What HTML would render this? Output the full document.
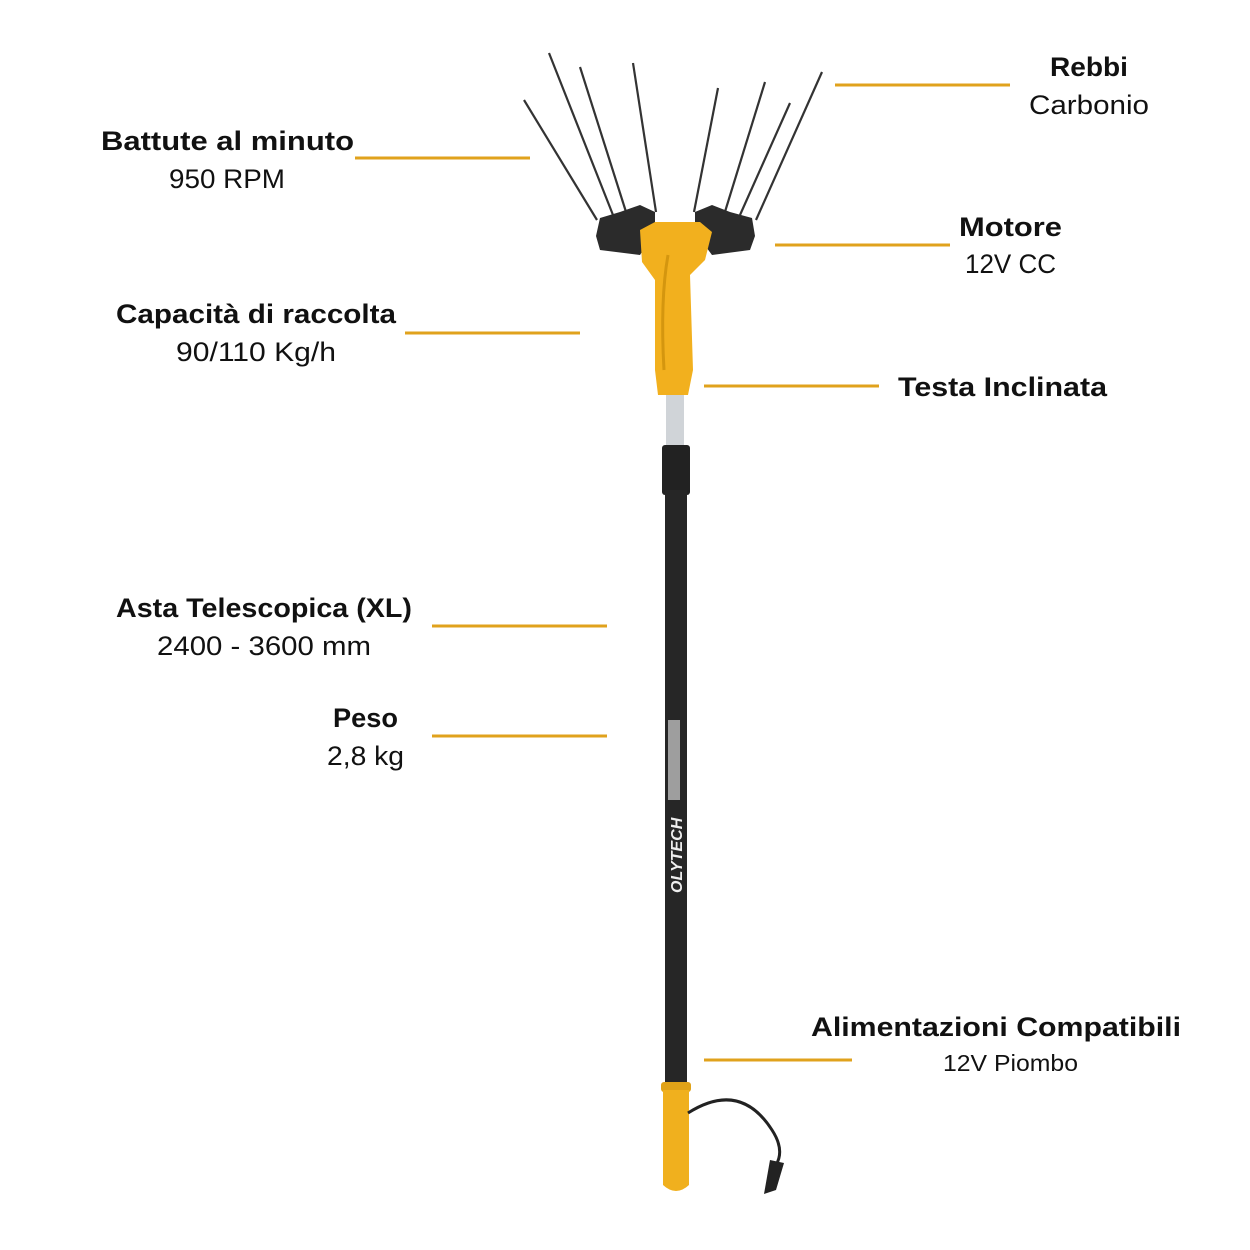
<!DOCTYPE html>
<html><head><meta charset="utf-8"><style>
html,body{margin:0;padding:0;background:#fff}
svg{display:block}
text{font-family:"Liberation Sans",sans-serif;fill:#111}
.b{font-weight:bold;font-size:27px}
.r{font-size:27px}
</style></head><body>
<svg width="1250" height="1250" viewBox="0 0 1250 1250" xmlns="http://www.w3.org/2000/svg">
<g stroke="#E0A21C" stroke-width="3">
<line x1="835" y1="85" x2="1010" y2="85"/>
<line x1="355" y1="158" x2="530" y2="158"/>
<line x1="775" y1="245" x2="950" y2="245"/>
<line x1="405" y1="333" x2="580" y2="333"/>
<line x1="704" y1="386" x2="879" y2="386"/>
<line x1="432" y1="626" x2="607" y2="626"/>
<line x1="432" y1="736" x2="607" y2="736"/>
<line x1="704" y1="1060" x2="852" y2="1060"/>
</g>
<text class="b" x="1050" y="76" textLength="78" lengthAdjust="spacingAndGlyphs">Rebbi</text>
<text class="r" x="1029" y="114" textLength="120" lengthAdjust="spacingAndGlyphs">Carbonio</text>
<text class="b" x="101" y="150" textLength="253" lengthAdjust="spacingAndGlyphs">Battute al minuto</text>
<text class="r" x="169" y="188" textLength="116" lengthAdjust="spacingAndGlyphs">950 RPM</text>
<text class="b" x="959" y="236" textLength="103" lengthAdjust="spacingAndGlyphs">Motore</text>
<text class="r" x="965" y="273" textLength="91" lengthAdjust="spacingAndGlyphs">12V CC</text>
<text class="b" x="116" y="323" textLength="280" lengthAdjust="spacingAndGlyphs">Capacità di raccolta</text>
<text class="r" x="176" y="361" textLength="160" lengthAdjust="spacingAndGlyphs">90/110 Kg/h</text>
<text class="b" x="898" y="396" textLength="209" lengthAdjust="spacingAndGlyphs">Testa Inclinata</text>
<text class="b" x="116" y="617" textLength="296" lengthAdjust="spacingAndGlyphs">Asta Telescopica (XL)</text>
<text class="r" x="157" y="655" textLength="214" lengthAdjust="spacingAndGlyphs">2400 - 3600 mm</text>
<text class="b" x="333" y="727" textLength="65" lengthAdjust="spacingAndGlyphs">Peso</text>
<text class="r" x="327" y="765" textLength="77" lengthAdjust="spacingAndGlyphs">2,8 kg</text>
<text class="b" x="811" y="1036" textLength="370" lengthAdjust="spacingAndGlyphs">Alimentazioni Compatibili</text>
<text x="943" y="1071" style="font-size:23px" textLength="135" lengthAdjust="spacingAndGlyphs">12V Piombo</text>
<!-- tines -->
<g stroke="#333" stroke-width="2.2">
<line x1="524" y1="100" x2="597" y2="220"/>
<line x1="549" y1="53" x2="613" y2="215"/>
<line x1="580" y1="67" x2="627" y2="215"/>
<line x1="633" y1="63" x2="656" y2="212"/>
<line x1="718" y1="88" x2="694" y2="212"/>
<line x1="765" y1="82" x2="724" y2="215"/>
<line x1="790" y1="103" x2="740" y2="215"/>
<line x1="822" y1="72" x2="756" y2="220"/>
</g>
<path d="M596 236 L600 218 L620 212 L640 205 L655 212 L655 232 L640 255 L600 250 Z" fill="#2b2b2b"/>
<path d="M755 236 L752 218 L730 212 L712 205 L695 212 L695 232 L712 255 L750 250 Z" fill="#2b2b2b"/>
<path d="M640 230 L655 222 L700 222 L712 232 L705 260 L690 275 L693 370 L688 395 L658 395 L655 370 L655 280 L642 262 Z" fill="#F2B01E"/>
<path d="M668 255 Q660 300 664 370" stroke="#d4960f" stroke-width="3" fill="none"/>
<rect x="666" y="395" width="18" height="60" fill="#d0d4d8"/>
<rect x="662" y="445" width="28" height="50" rx="3" fill="#222"/>
<rect x="665" y="490" width="22" height="595" fill="#262626"/>
<rect x="668" y="720" width="12" height="80" fill="#eee" opacity="0.6"/>
<text x="0" y="0" transform="translate(682,893) rotate(-90)" style="font-size:16px;font-weight:bold;font-style:italic;fill:#eee">OLYTECH</text>
<rect x="661" y="1082" width="30" height="10" rx="3" fill="#e0a218"/>
<path d="M663 1090 L689 1090 L689 1185 Q676 1197 663 1185 Z" fill="#F0B01E"/>
<path d="M688 1113 Q740 1080 772 1130 Q785 1150 776 1165" stroke="#222" stroke-width="3" fill="none"/>
<path d="M770 1160 L784 1163 L776 1190 L764 1194 Z" fill="#222"/>
</svg>
</body></html>
